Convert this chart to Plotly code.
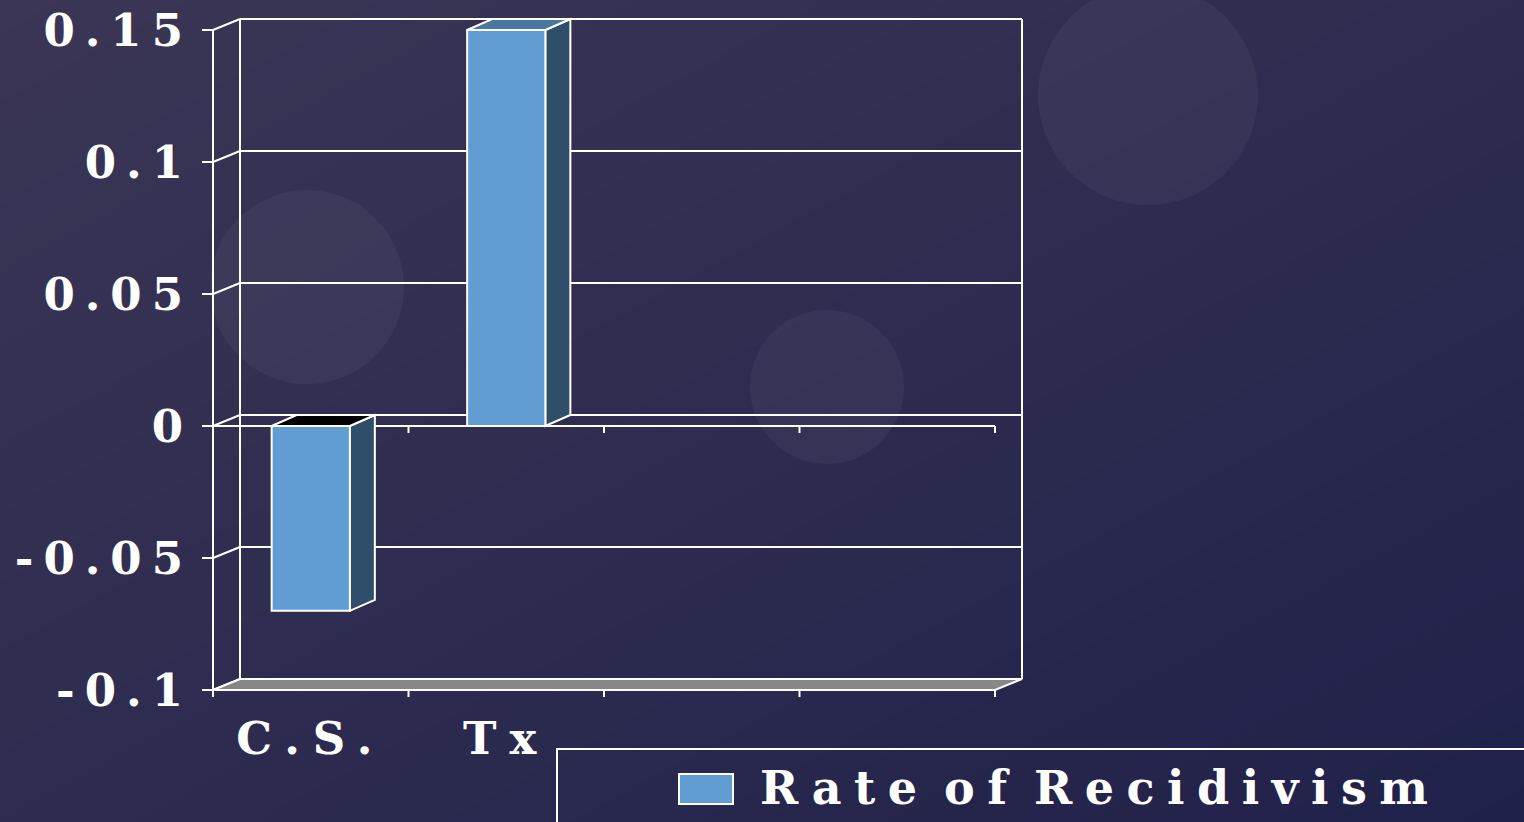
import plotly.graph_objects as go

# ---- chart content -------------------------------------------------------
categories = ["C.S.", "Tx", "", ""]          # four category slots, two used
series_name = "Rate of Recidivism"
values = [-0.07, 0.15]
y_tick_values = [-0.1, -0.05, 0, 0.05, 0.1, 0.15]
y_tick_labels = ["-0.1", "-0.05", "0", "0.05", "0.1", "0.15"]

# ---- page geometry (pixels) ----------------------------------------------
W, H = 1524, 822
FRONT_LEFT_PX, FRONT_RIGHT_PX = 213, 995      # front plane of the 3-D box
FRONT_BOTTOM_PX, FRONT_TOP_PX = 690, 30
WALL_DEPTH_PX = (27, 11)                      # back wall offset (right, up)
BAR_DEPTH_PX = (25, 11)                       # column depth offset
TICK_PX = 7
DOM_LEFT, DOM_RIGHT, DOM_TOP, DOM_BOTTOM = 195, 1040, 6, 708

# ---- colours ---------------------------------------------------------------
BG_START = (59, 54, 85)     # upper-left of the slide
BG_END = (32, 33, 74)       # lower-right of the slide
LINE = "#FFFFFF"
FLOOR = "#878787"
BAR_FRONT = "#619DD2"
BAR_SIDE = "#2F4E69"
BAR_TOP = "#4A77A1"
BAR_TOP_SHADED = "#000000"
FONT = "DejaVu Serif"
VALUE_SPACING = "letter-spacing:10px"
CATEGORY_SPACING = "letter-spacing:13px"
LEGEND_SPACING = "letter-spacing:12.5px;word-spacing:-14px"

# ---- scales ----------------------------------------------------------------
n_slots = len(categories)
x_lo, x_hi = -0.5, n_slots - 0.5
y_lo, y_hi = y_tick_values[0], y_tick_values[-1]
px_per_x = (FRONT_RIGHT_PX - FRONT_LEFT_PX) / (x_hi - x_lo)
px_per_y = (FRONT_BOTTOM_PX - FRONT_TOP_PX) / (y_hi - y_lo)


def x_at(px):
    return x_lo + (px - FRONT_LEFT_PX) / px_per_x


def y_at(py):
    return y_lo + (FRONT_BOTTOM_PX - py) / px_per_y


wdx, wdy = WALL_DEPTH_PX[0] / px_per_x, WALL_DEPTH_PX[1] / px_per_y
bdx, bdy = BAR_DEPTH_PX[0] / px_per_x, BAR_DEPTH_PX[1] / px_per_y
tick_len = TICK_PX / px_per_y
bar_width = 0.4
bar_x = list(range(len(values)))


def spaced(text, style):
    return f'<span style="{style}">{text}</span>' if text else ""


def path(points):
    return "M " + " L ".join(f"{x},{y}" for x, y in points) + " Z"


shapes = []

# ---- slide background: diagonal gradient + soft discs ----------------------
N_BANDS = 48
for i in range(N_BANDS):
    s = i / N_BANDS
    t = (i + 0.5) / N_BANDS
    r, g, b = (round(a + (c - a) * t) for a, c in zip(BG_START, BG_END))
    shapes.append(dict(
        type="path", xref="paper", yref="paper", layer="below",
        path=path([(-0.1, 0.9 - 2 * s), (1.1, 2.1 - 2 * s), (1.1, -2.0), (-0.1, -2.0)]),
        fillcolor=f"rgb({r},{g},{b})", line=dict(width=0),
    ))

for cx, cy, rad in [(1148, 95, 110), (307, 287, 97), (827, 387, 77)]:
    shapes.append(dict(
        type="circle", xref="paper", yref="paper", layer="below",
        x0=(cx - rad) / W, x1=(cx + rad) / W,
        y0=1 - (cy + rad) / H, y1=1 - (cy - rad) / H,
        fillcolor="rgba(255,255,255,0.045)", line=dict(width=0),
    ))


def seg(x0, y0, x1, y1):
    shapes.append(dict(type="line", xref="x", yref="y", layer="below",
                       x0=x0, y0=y0, x1=x1, y1=y1,
                       line=dict(color=LINE, width=2)))


# ---- back wall, gridlines and side wall -----------------------------------
back_l, back_r = x_lo + wdx, x_hi + wdx
for v in y_tick_values:
    seg(back_l, v + wdy, back_r, v + wdy)       # back-wall gridline
    seg(x_lo, v, back_l, v + wdy)               # side-wall diagonal
seg(back_l, y_lo + wdy, back_l, y_hi + wdy)
seg(back_r, y_lo + wdy, back_r, y_hi + wdy)
seg(x_lo, y_lo, x_lo, y_hi)                     # front value axis

# floor
shapes.append(dict(
    type="path", xref="x", yref="y", layer="below",
    path=path([(x_lo, y_lo), (x_hi, y_lo), (back_r, y_lo + wdy), (back_l, y_lo + wdy)]),
    fillcolor=FLOOR, line=dict(color=LINE, width=2),
))

# category axis along zero, with tick marks at slot boundaries
seg(x_lo, 0, x_hi, 0)
for k in range(n_slots + 1):
    bx = x_lo + k
    seg(bx, y_lo, bx, y_lo - tick_len)
    if k > 0:
        seg(bx, 0, bx, -tick_len)

# ---- column side and top faces --------------------------------------------
for xc, v in zip(bar_x, values):
    x0, x1 = xc - bar_width / 2, xc + bar_width / 2
    top, bot = max(v, 0), min(v, 0)
    shapes.append(dict(
        type="path", xref="x", yref="y", layer="below",
        path=path([(x1, bot), (x1, top), (x1 + bdx, top + bdy), (x1 + bdx, bot + bdy)]),
        fillcolor=BAR_SIDE, line=dict(color=LINE, width=2),
    ))
    shapes.append(dict(
        type="path", xref="x", yref="y", layer="below",
        path=path([(x0, top), (x0 + bdx, top + bdy), (x1 + bdx, top + bdy), (x1, top)]),
        fillcolor=BAR_TOP if v > 0 else BAR_TOP_SHADED, line=dict(color=LINE, width=2),
    ))

# ---- legend box -------------------------------------------------------------
shapes.append(dict(type="rect", xref="paper", yref="paper", layer="above",
                   x0=557 / W, x1=1.02, y0=-0.05, y1=1 - 749 / H,
                   line=dict(color=LINE, width=2), fillcolor="rgba(0,0,0,0)"))
shapes.append(dict(type="rect", xref="paper", yref="paper", layer="above",
                   x0=679 / W, x1=733 / W, y0=1 - 804 / H, y1=1 - 774 / H,
                   line=dict(color=LINE, width=2), fillcolor=BAR_FRONT))

fig = go.Figure(go.Bar(
    x=bar_x, y=values, width=bar_width, name=series_name,
    marker=dict(color=BAR_FRONT, line=dict(color=LINE, width=2)),
    showlegend=False, hoverinfo="skip",
))

tick_font = dict(family=FONT, size=45, color="#FFFFFF", weight="bold")

fig.update_layout(
    width=W, height=H, autosize=False,
    margin=dict(l=0, r=0, t=0, b=0, pad=0, autoexpand=False),
    paper_bgcolor="rgb(%d,%d,%d)" % BG_START,
    plot_bgcolor="rgba(0,0,0,0)",
    shapes=shapes,
    showlegend=False,
    xaxis=dict(
        domain=[DOM_LEFT / W, DOM_RIGHT / W],
        range=[x_at(DOM_LEFT), x_at(DOM_RIGHT)],
        tickvals=list(range(n_slots)),
        ticktext=[spaced(c, CATEGORY_SPACING) for c in categories],
        ticks="", showgrid=False, zeroline=False, showline=False,
        anchor="free", position=1 - FRONT_BOTTOM_PX / H,
        ticklabelstandoff=18, automargin=False,
        tickfont=tick_font, fixedrange=True,
    ),
    yaxis=dict(
        domain=[1 - DOM_BOTTOM / H, 1 - DOM_TOP / H],
        range=[y_at(DOM_BOTTOM), y_at(DOM_TOP)],
        tickvals=y_tick_values,
        ticktext=[spaced(t, VALUE_SPACING) for t in y_tick_labels],
        ticks="outside", ticklen=11, tickwidth=2, tickcolor=LINE,
        showgrid=False, zeroline=False, showline=False,
        anchor="free", position=FRONT_LEFT_PX / W,
        ticklabelstandoff=0, automargin=False,
        tickfont=tick_font, fixedrange=True,
    ),
    annotations=[dict(
        xref="paper", yref="paper", x=758 / W, y=1 - 788 / H,
        xanchor="left", yanchor="middle", showarrow=False,
        text=spaced(series_name, LEGEND_SPACING),
        font=dict(family=FONT, size=46, color="#FFFFFF", weight="bold"),
    )],
)

fig.write_html("out.html")
